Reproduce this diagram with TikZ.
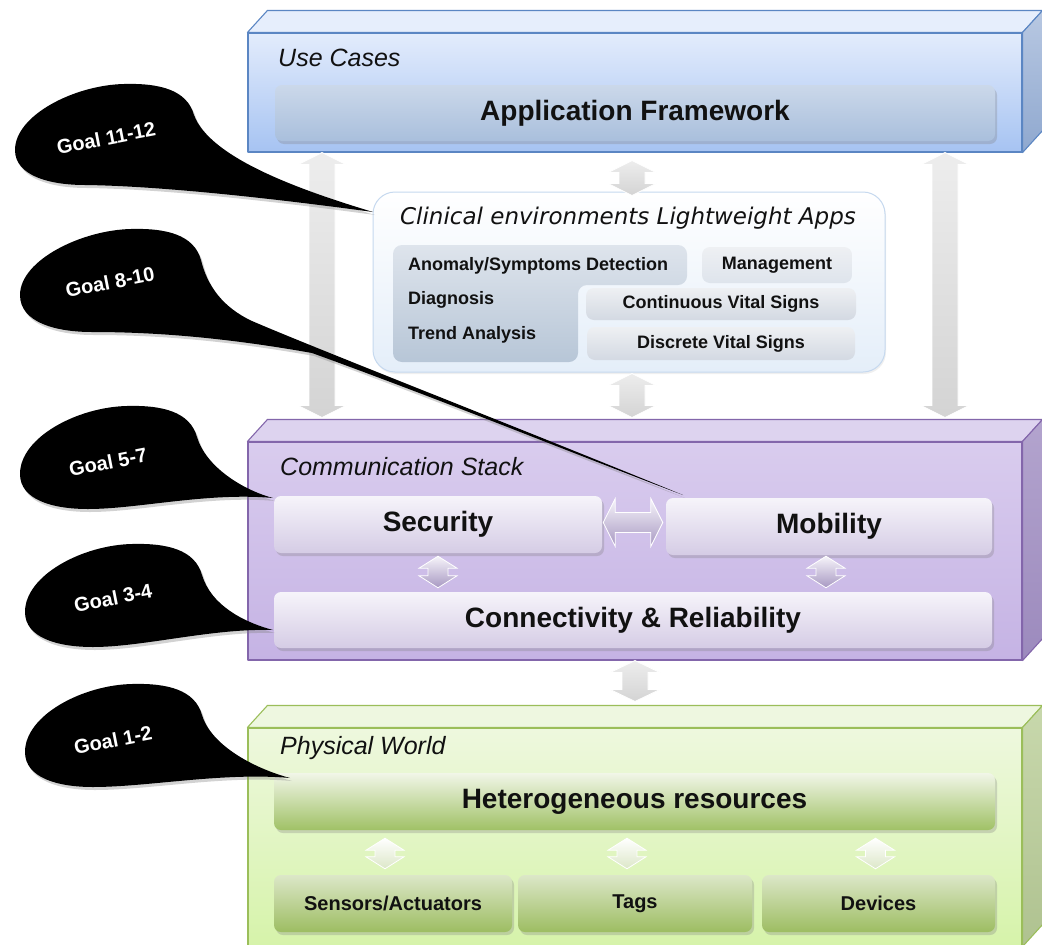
\documentclass[tikz,border=0pt]{standalone}
\usepackage{fontspec}
\setmainfont{Liberation Sans}
\newfontfamily\dejavu{DejaVu Sans}
\usetikzlibrary{calc,shadows}

% layer colours
\definecolor{ucTop}{HTML}{E3ECFC}
\definecolor{ucBot}{HTML}{A6C3F2}
\definecolor{ucLine}{HTML}{5B86C3}
\definecolor{ucLid}{HTML}{E6EEFC}
\definecolor{ucSideT}{HTML}{B8C8E2}
\definecolor{ucSideB}{HTML}{8FA8CF}
\definecolor{afTop}{HTML}{CBD8EA}
\definecolor{afBot}{HTML}{A9BFDC}
\definecolor{csTop}{HTML}{D9CCEE}
\definecolor{csBot}{HTML}{C5B3E4}
\definecolor{csLine}{HTML}{8366AB}
\definecolor{csLid}{HTML}{DDD3EF}
\definecolor{csSideT}{HTML}{B3A4CE}
\definecolor{csSideB}{HTML}{9C8ABD}
\definecolor{inTop}{HTML}{F6F4FA}
\definecolor{inBot}{HTML}{D5CCE5}
\definecolor{pwTop}{HTML}{EEF8DE}
\definecolor{pwBot}{HTML}{D6F3AA}
\definecolor{pwLine}{HTML}{9BBE5A}
\definecolor{pwLid}{HTML}{EEF7E0}
\definecolor{pwSideT}{HTML}{C8D8AC}
\definecolor{pwSideB}{HTML}{AFC290}
\definecolor{hrTop}{HTML}{F1F6E8}
\definecolor{hrBot}{HTML}{A0C166}
\definecolor{devTop}{HTML}{DCE7C8}
\definecolor{devBot}{HTML}{9DBD62}
% clinical apps panel
\definecolor{clBot}{HTML}{E4EEF9}
\definecolor{clLine}{HTML}{C6D9EF}
\definecolor{lTop}{HTML}{DEE4EC}
\definecolor{lBot}{HTML}{B7C6D7}
\definecolor{vsTop}{HTML}{EEF0F3}
\definecolor{vsBot}{HTML}{D3D9E2}
\definecolor{txt}{HTML}{111111}

% vertical double block arrow: [style]{top tip}{bottom tip}{shaft half width}{head half width}
\newcommand\vdarrow[5][]{%
  \path[#1] let \p1=#2, \p2=#3 in
    (\x1,\y1) -- (\x1+#5,\y1-12pt) -- (\x1+#4,\y1-12pt) -- (\x1+#4,\y2+12pt)
    -- (\x1+#5,\y2+12pt) -- (\x1,\y2) -- (\x1-#5,\y2+12pt) -- (\x1-#4,\y2+12pt)
    -- (\x1-#4,\y1-12pt) -- (\x1-#5,\y1-12pt) -- cycle;}
% horizontal double block arrow: [style]{left tip}{right tip}{shaft half height}{head half height}
\newcommand\hdarrow[5][]{%
  \path[#1] let \p1=#2, \p2=#3 in
    (\x1,\y1) -- (\x1+12pt,\y1+#5) -- (\x1+12pt,\y1+#4) -- (\x2-12pt,\y1+#4)
    -- (\x2-12pt,\y1+#5) -- (\x2,\y1) -- (\x2-12pt,\y1-#5) -- (\x2-12pt,\y1-#4)
    -- (\x1+12pt,\y1-#4) -- (\x1+12pt,\y1-#5) -- cycle;}
% lid and side of a layer slab: {front node}{lid}{side top}{side bottom}{edge}
\newcommand\slabfaces[5]{%
  \path[face, fill=#2, draw=#5] (#1.north west) -- ++(20,-22)
    -- ($(#1.north east)+(20,-22)$) -- (#1.north east) -- cycle;
  \path[face, top color=#3, bottom color=#4, draw=#5] (#1.north east) -- ++(20,-22)
    -- ($(#1.south east)+(20,-22)$) -- (#1.south east) -- cycle;}

\begin{document}
\begin{tikzpicture}[x=1pt,y=-1pt,
  face/.style={line width=1.1pt, line join=round},
  layerbox/.style={face, rectangle, inner sep=0pt, minimum width=774pt, minimum height=#1},
  block/.style={rectangle, rounded corners=7pt, inner sep=0pt, text=txt,
    drop shadow={opacity=0.3, shadow xshift=2pt, shadow yshift=-3pt}},
  softblock/.style={rectangle, rounded corners=8pt, inner sep=0pt, text=txt},
  layertitle/.style={font=\fontsize{25}{28}\selectfont\itshape, anchor=base west, inner sep=0pt, text=txt},
  bigtext/.style={font=\fontsize{28}{32}\selectfont\bfseries},
  subtext/.style={font=\fontsize{20}{24}\selectfont\bfseries},
  apptext/.style={font=\fontsize{18}{21}\selectfont\bfseries, inner sep=0pt, text=txt},
  goaltext/.style={font=\fontsize{20}{24}\selectfont\bfseries, text=white, rotate=11, inner sep=0pt},
  callout/.style={fill=black, drop shadow={opacity=0.35, shadow xshift=2pt, shadow yshift=-3pt}},
  grayarrow/.style={top color=white!93!black, bottom color=white!83!black, draw=white, line width=0.8pt},
  purplearrow/.style={top color=inTop, bottom color=csBot!85!black, draw=white, line width=0.8pt},
  greenarrow/.style={top color=white, bottom color=devTop, draw=white, line width=0.8pt},
]
\useasboundingbox (0,0) rectangle (1042,945);
\fill[white] (0,0) rectangle (1042,945);

% ---------- Use Cases layer ----------
\node[layerbox=119pt, draw=ucLine, top color=ucTop, bottom color=ucBot] (uc) at (635,92.5) {};
\slabfaces{uc}{ucLid}{ucSideT}{ucSideB}{ucLine}
\node[layertitle] (uct) at (278,66) {Use Cases};
\node[block, top color=afTop, bottom color=afBot, minimum width=720pt, minimum height=56pt, bigtext]
  (af) at (635,113) {Application Framework};

% ---------- Communication Stack layer ----------
\node[layerbox=218pt, draw=csLine, top color=csTop, bottom color=csBot] (cs) at (635,551) {};
\slabfaces{cs}{csLid}{csSideT}{csSideB}{csLine}
\node[layertitle] (cst) at (280,475) {Communication Stack};
\node[block, top color=inTop, bottom color=inBot, minimum width=328pt, minimum height=57pt, bigtext]
  (sec) at (438,524.5) {Security};
\node[block, top color=inTop, bottom color=inBot, minimum width=326pt, minimum height=57pt, bigtext]
  (mob) at (829,526.5) {Mobility};
\node[block, top color=inTop, bottom color=inBot, minimum width=718pt, minimum height=56pt, bigtext]
  (con) at (633,620) {Connectivity \& Reliability};

% ---------- Physical World layer ----------
\node[layerbox=218pt, draw=pwLine, top color=pwTop, bottom color=pwBot] (pw) at (635,837) {};
\slabfaces{pw}{pwLid}{pwSideT}{pwSideB}{pwLine}
\node[layertitle] (pwt) at (280,754) {Physical World};
\node[block, top color=hrTop, bottom color=hrBot, minimum width=721pt, minimum height=57pt, bigtext]
  (hr) at (634.5,801.5) {Heterogeneous resources};
\node[block, top color=devTop, bottom color=devBot, minimum width=238pt, minimum height=57pt, subtext]
  (sen) at (393,903.5) {Sensors/Actuators};
\node[block, top color=devTop, bottom color=devBot, minimum width=234pt, minimum height=57pt, subtext]
  (tag) at (635,903.5) {Tags};
\node[block, top color=devTop, bottom color=devBot, minimum width=233pt, minimum height=57pt, subtext]
  (dev) at (878.5,903.5) {Devices};

% ---------- clinical lightweight apps ----------
\node[draw=clLine, line width=1pt, rounded corners=22pt, top color=white, bottom color=clBot,
  minimum width=512pt, minimum height=180pt, inner sep=0pt,
  drop shadow={opacity=0.12, shadow xshift=1pt, shadow yshift=-2pt}] (cl) at (629,282) {};
\node[font=\dejavu\itshape\fontsize{23}{27}\selectfont, text=txt, inner sep=0pt]
  (clt) at (628,218) {Clinical environments Lightweight Apps};
\path[top color=lTop, bottom color=lBot, rounded corners=9pt]
  (393,245) -- (687,245) -- (687,285) -- (578,285) -- (578,362) -- (393,362) -- cycle;
\node[softblock, top color=vsTop, bottom color=lTop, minimum width=150pt, minimum height=36pt, apptext]
  (mgt) at (777,265) {Management};
\node[softblock, top color=vsTop, bottom color=vsBot, minimum width=270pt, minimum height=32pt, apptext]
  (cvs) at (721,304) {Continuous Vital Signs};
\node[softblock, top color=vsTop, bottom color=vsBot, minimum width=268pt, minimum height=33pt, apptext]
  (dvs) at (721,343.5) {Discrete Vital Signs};
\node[apptext, anchor=west] (ano) at (408,266) {Anomaly/Symptoms Detection};
\node[apptext, anchor=west] (dia) at (408,300) {Diagnosis};
\node[apptext, anchor=west] (tre) at (408,335) {Trend Analysis};

% ---------- block arrows ----------
\vdarrow[grayarrow]{($(uc.south)+(-313,0)$)}{($(cs.north)+(-313,-24)$)}{13pt}{24pt}
\vdarrow[grayarrow]{($(uc.south)+(310,0)$)}{($(cs.north)+(310,-24)$)}{13pt}{24pt}
\vdarrow[grayarrow]{($(uc.south)+(-3,8)$)}{($(cl.north)+(3,4)$)}{13pt}{24pt}
\vdarrow[grayarrow]{($(cl.south)+(3,1)$)}{($(cs.north)+(0,-24)$)}{13pt}{24pt}
\vdarrow[grayarrow]{($(cs.south)+(0,0)$)}{($(pw.north)+(0,-26)$)}{13pt}{25pt}
\vdarrow[purplearrow]{($(sec.south)+(0,3)$)}{($(con.north)+(0,-4)$)}{10pt}{19pt}
\vdarrow[purplearrow]{($(mob.south)+(-3,1)$)}{($(con.north)+(0,-4)$)}{10pt}{19pt}
\hdarrow[purplearrow]{($(sec.east)+(1,-2)$)}{($(mob.west)+(-3,0)$)}{10pt}{24pt}
\vdarrow[greenarrow]{($(sen.north |- hr.south)+(-8,8)$)}{($(sen.north)+(0,-6)$)}{10pt}{19pt}
\vdarrow[greenarrow]{($(tag.north |- hr.south)+(-8,8)$)}{($(tag.north)+(0,-6)$)}{10pt}{19pt}
\vdarrow[greenarrow]{($(dev.north |- hr.south)+(-3,8)$)}{($(dev.north)+(0,-6)$)}{10pt}{19pt}

% ---------- goal callouts ----------
\begin{scope}[shift={(105,140)}]
  \path[callout] (89,-25) .. controls (82,-50) and (55,-57) .. (19,-56)
    .. controls (-30,-55) and (-90,-25) .. (-90,10) .. controls (-90,36) and (-55,45) .. (-20,45)
    .. controls (60,46) and (180,60) .. (268,72) .. controls (195,50) and (105,18) .. (89,-25) -- cycle;
  \node[goaltext] (g1112) at (1,-2) {Goal 11-12};
\end{scope}
\begin{scope}[shift={(112,285)}]
  \path[callout] (89,-25) .. controls (82,-50) and (55,-57) .. (19,-56)
    .. controls (-30,-55) and (-92,-25) .. (-92,10) .. controls (-92,38) and (-55,47) .. (-20,47)
    .. controls (40,47) and (110,52) .. (200,68) .. controls (330,115) and (470,172) .. (571,210)
    .. controls (400,140) and (200,62) .. (140,36) .. controls (110,22) and (95,0) .. (89,-25) -- cycle;
  \node[goaltext] (g810) at (-2,-3) {Goal 8-10};
\end{scope}
\begin{scope}[shift={(108,462)}]
  \path[callout] (89,-25) .. controls (82,-50) and (55,-57) .. (19,-56)
    .. controls (-30,-55) and (-88,-25) .. (-88,12) .. controls (-88,38) and (-55,47) .. (-20,47)
    .. controls (30,47) and (100,30) .. (165,36) .. controls (135,28) and (98,5) .. (89,-25) -- cycle;
  \node[goaltext] (g57) at (0,0) {Goal 5-7};
\end{scope}
\begin{scope}[shift={(113,600)}]
  \path[callout] (89,-25) .. controls (82,-50) and (55,-57) .. (19,-56)
    .. controls (-30,-55) and (-88,-25) .. (-88,12) .. controls (-88,38) and (-55,47) .. (-20,47)
    .. controls (30,47) and (100,28) .. (160,30) .. controls (130,22) and (98,5) .. (89,-25) -- cycle;
  \node[goaltext] (g34) at (0,-2) {Goal 3-4};
\end{scope}
\begin{scope}[shift={(113,740)}]
  \path[callout] (89,-25) .. controls (82,-50) and (55,-57) .. (19,-56)
    .. controls (-30,-55) and (-88,-25) .. (-88,12) .. controls (-88,38) and (-55,47) .. (-20,47)
    .. controls (35,47) and (110,32) .. (177,38) .. controls (140,28) and (98,5) .. (89,-25) -- cycle;
  \node[goaltext] (g12) at (0,0) {Goal 1-2};
\end{scope}
\end{tikzpicture}
\end{document}
